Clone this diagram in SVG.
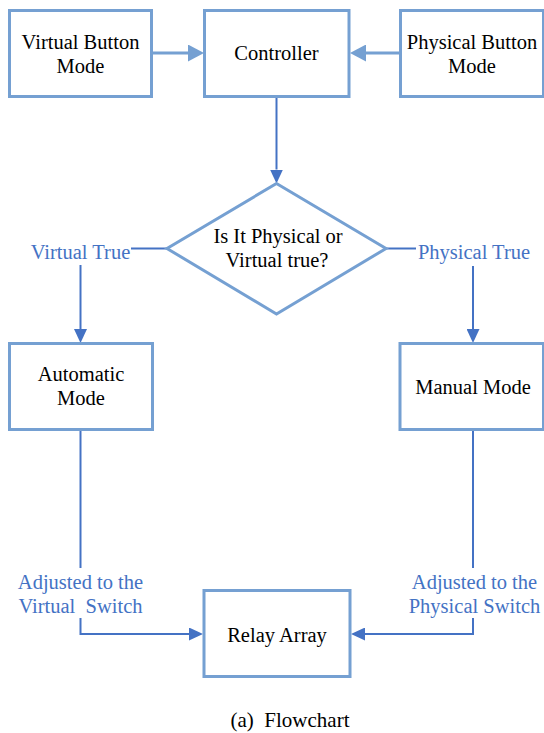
<svg xmlns="http://www.w3.org/2000/svg" width="544" height="733" viewBox="0 0 544 733">
<defs>
  <marker id="ad" markerUnits="userSpaceOnUse" markerWidth="14" markerHeight="13" refX="0" refY="6.5" orient="auto">
    <path d="M0,0 L14,6.5 L0,13 z" fill="#4472C4"/>
  </marker>
  <marker id="al" markerUnits="userSpaceOnUse" markerWidth="16" markerHeight="17" refX="0" refY="8.5" orient="auto">
    <path d="M0,0 L16,8.5 L0,17 z" fill="#75A0D2"/>
  </marker>
</defs>
<rect width="544" height="733" fill="#ffffff"/>
<g id="connectors" fill="none" stroke="#4472C4" stroke-width="2">
  <line stroke="#75A0D2" stroke-width="3" x1="152" y1="53" x2="188" y2="53" marker-end="url(#al)"/>
  <line stroke="#75A0D2" stroke-width="3" x1="400" y1="53" x2="366" y2="53" marker-end="url(#al)"/>
  <line x1="276.5" y1="98" x2="276.5" y2="169.5" marker-end="url(#ad)"/>
  <line x1="167" y1="248.5" x2="131" y2="248.5"/>
  <line x1="80.5" y1="265" x2="80.5" y2="329" marker-end="url(#ad)"/>
  <line x1="386" y1="248.5" x2="416" y2="248.5"/>
  <line x1="473" y1="266" x2="473" y2="329" marker-end="url(#ad)"/>
  <line x1="80.5" y1="430" x2="80.5" y2="568"/>
  <polyline points="80.5,618 80.5,634 189,634" marker-end="url(#ad)"/>
  <line x1="473" y1="430" x2="473" y2="568"/>
  <polyline points="473,618 473,634 365,634" marker-end="url(#ad)"/>
</g>
<g font-family="Liberation Serif" font-size="20.5" text-anchor="middle" fill="#000000">
<g id="virtual-button">
  <rect fill="#ffffff" stroke="#75A0D2" stroke-width="3" x="9.5" y="10.5" width="142" height="86"/>
  <text x="80.5" y="48.5">Virtual Button</text>
  <text x="80.5" y="73">Mode</text>
</g>
<g id="controller">
  <rect fill="#ffffff" stroke="#75A0D2" stroke-width="3" x="204.5" y="10.5" width="144.5" height="86"/>
  <text x="276.5" y="59.5">Controller</text>
</g>
<g id="physical-button">
  <rect fill="#ffffff" stroke="#75A0D2" stroke-width="3" x="400.5" y="10.5" width="143" height="86"/>
  <text x="472" y="48.5">Physical Button</text>
  <text x="472" y="73">Mode</text>
</g>
<g id="decision">
  <polygon fill="#ffffff" stroke="#75A0D2" stroke-width="3" points="276.5,183.5 386,248.5 276.5,314 167,248.5"/>
  <text x="278" y="242.5">Is It Physical or</text>
  <text x="277" y="266.5">Virtual true?</text>
</g>
<g id="label-virtual-true" fill="#4472C4">
  <text x="80.5" y="259">Virtual True</text>
</g>
<g id="label-physical-true" fill="#4472C4">
  <text x="474" y="259">Physical True</text>
</g>
<g id="automatic">
  <rect fill="#ffffff" stroke="#75A0D2" stroke-width="3" x="9.5" y="343.5" width="143" height="86"/>
  <text x="81" y="380.5">Automatic</text>
  <text x="81" y="405">Mode</text>
</g>
<g id="manual">
  <rect fill="#ffffff" stroke="#75A0D2" stroke-width="3" x="400" y="343.5" width="143.5" height="86"/>
  <text x="473" y="394">Manual Mode</text>
</g>
<g id="label-virtual-switch" fill="#4472C4">
  <text x="80.5" y="589">Adjusted to the</text>
  <text x="80.5" y="613" xml:space="preserve">Virtual  Switch</text>
</g>
<g id="label-physical-switch" fill="#4472C4">
  <text x="474.5" y="589">Adjusted to the</text>
  <text x="474.5" y="613">Physical Switch</text>
</g>
<g id="relay">
  <rect fill="#ffffff" stroke="#75A0D2" stroke-width="3" x="204" y="590.5" width="146" height="86"/>
  <text x="277" y="641.5">Relay Array</text>
</g>
<text font-size="21" x="290" y="726.5" xml:space="preserve">(a)  Flowchart</text>
</g>
</svg>
